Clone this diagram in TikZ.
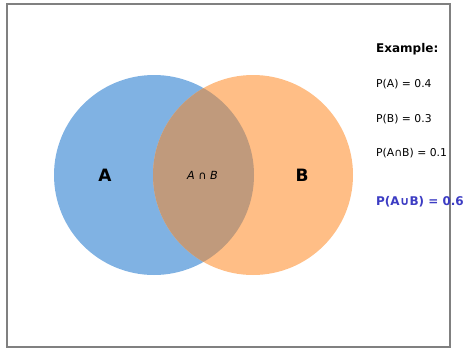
\documentclass[tikz,border=0pt]{standalone}
\usepackage{fontspec}
\setmainfont{DejaVu Sans}
\definecolor{setA}{RGB}{128,178,227}
\definecolor{setB}{RGB}{255,190,134}
\definecolor{setAB}{RGB}{192,154,124}
\definecolor{unionblue}{RGB}{60,60,195}
\newcommand{\txt}{\fontsize{10.8}{12}\selectfont}

\begin{document}
\begin{tikzpicture}[x=1pt,y=1pt]
\tikzstyle{every node}+=[inner sep=0pt]
\tikzstyle{info}=[anchor=base west, font=\txt]
\useasboundingbox (0,0) rectangle (466,-348);
\draw [gray, line width=2pt] (6.5,-3.5) rectangle (449.5,-347);
% the two sets
\fill [setA] (154,-175) circle (100);
\fill [setB] (253,-175) circle (100);
\begin{scope}
\clip (154,-175) circle (100);
\fill [setAB] (253,-175) circle (100);
\end{scope}
\node (labA) at (105,-175) {\fontsize{17}{19}\selectfont\bfseries A};
\node (labB) at (302,-175) {\fontsize{17}{19}\selectfont\bfseries B};
\node (labAB) at (202.5,-175) {\fontsize{11.2}{13}\selectfont\itshape A ∩ B};
% worked example
\node [info] (ex) at (376,-52) {\fontsize{12}{14}\selectfont\bfseries Example:};
\node [info] (pa) at (376,-87) {P(A) = 0.4};
\node [info] (pb) at (376,-122.5) {P(B) = 0.3};
\node [info] (pab) at (376,-156) {P(A∩B) = 0.1};
\node [info, text=unionblue] (pu) at (376,-205.5) {\fontsize{12}{14}\selectfont\bfseries P(A∪B) = 0.6};
\end{tikzpicture}
\end{document}
